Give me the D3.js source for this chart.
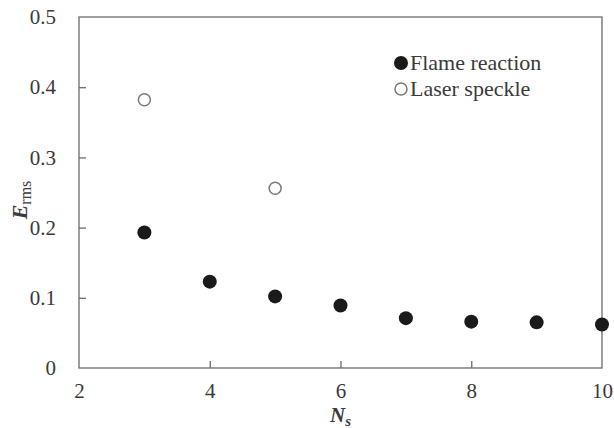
<!DOCTYPE html>
<html><head><meta charset="utf-8">
<script src="https://cdn.jsdelivr.net/npm/d3@7"></script>
</head><body>
<script>
const flameX = [3,4,5,6,7,8,9,10];
const flameY = [0.193,0.123,0.102,0.089,0.071,0.066,0.065,0.062];
const laserX = [3,5];
const laserY = [0.382,0.256];
const xTicks = [2,4,6,8,10];
const yTicks = [0,0.1,0.2,0.3,0.4,0.5];
const legendLabels = ["Flame reaction","Laser speckle"];

d3.select("body").style("margin","0px").style("background","#fff");
const W=614,H=428;
const m={l:79,r:12,t:17,b:60};
const svg=d3.select("body").append("svg").attr("width",W).attr("height",H).style("display","block");
const x=d3.scaleLinear().domain([2,10]).range([m.l,W-m.r]);
const y=d3.scaleLinear().domain([0,0.5]).range([H-m.b,m.t]);
const font='"Times New Roman", Tinos, "Liberation Serif", serif';
const axCol="#6b6b6b", txt="#3a3a3a";

svg.append("rect").attr("x",x(2)).attr("y",y(0.5)).attr("width",x(10)-x(2)).attr("height",y(0)-y(0.5))
  .attr("fill","none").attr("stroke",axCol).attr("stroke-width",1.3);

const xa=svg.append("g").attr("transform",`translate(0,${y(0)})`)
  .call(d3.axisBottom(x).tickValues(xTicks).tickSizeInner(-7).tickSizeOuter(0).tickPadding(15).tickFormat(d3.format("d")));
const ya=svg.append("g").attr("transform",`translate(${x(2)},0)`)
  .call(d3.axisLeft(y).tickValues(yTicks).tickSizeInner(-7).tickSizeOuter(0).tickPadding(23).tickFormat(d=>d===0?"0":d3.format(".1f")(d)));
[xa,ya].forEach(g=>{
  g.attr("font-family",font).attr("font-size",21);
  g.select(".domain").remove();
  g.selectAll(".tick line").attr("stroke",axCol).attr("stroke-width",1.3);
  g.selectAll(".tick text").attr("fill",txt).attr("font-family",font).attr("font-size",21);
});
xa.selectAll(".tick line").filter(d=>d===2||d===10).remove();
ya.selectAll(".tick line").filter(d=>d===0||d===0.5).remove();

svg.append("g").selectAll("circle").data(flameX).join("circle")
  .attr("cx",d=>x(d)).attr("cy",(d,i)=>y(flameY[i])).attr("r",7).attr("fill","#1a1a1a");
svg.append("g").selectAll("circle").data(laserX).join("circle")
  .attr("cx",d=>x(d)).attr("cy",(d,i)=>y(laserY[i])).attr("r",6).attr("fill","#fff")
  .attr("stroke","#7a7a7a").attr("stroke-width",1.5);

const lg=svg.append("g").attr("transform","translate(401,63)");
lg.append("circle").attr("cx",0).attr("cy",0).attr("r",7).attr("fill","#1a1a1a");
lg.append("circle").attr("cx",0).attr("cy",26).attr("r",6).attr("fill","#fff").attr("stroke","#7a7a7a").attr("stroke-width",1.5);
legendLabels.forEach((t,i)=>{
  lg.append("text").attr("x",9).attr("y",i*26+7).text(t).attr("fill",txt)
    .attr("font-family",font).attr("font-size",22);
});

const yl=svg.append("text").attr("transform",`translate(27,200) rotate(-90)`)
  .attr("text-anchor","middle").attr("fill",txt).attr("font-family",font).attr("font-size",22);
yl.append("tspan").text("E").attr("font-style","italic").attr("font-weight","bold");
yl.append("tspan").text("rms").attr("font-size",16).attr("dy",4);
const xl=svg.append("text").attr("x",x(6)).attr("y",422).attr("text-anchor","middle").attr("fill",txt)
  .attr("font-family",font).attr("font-size",21);
xl.append("tspan").text("N").attr("font-style","italic").attr("font-weight","bold");
xl.append("tspan").text("s").attr("font-style","italic").attr("font-weight","bold").attr("font-size",15).attr("dy",4);
</script>
</body></html>
